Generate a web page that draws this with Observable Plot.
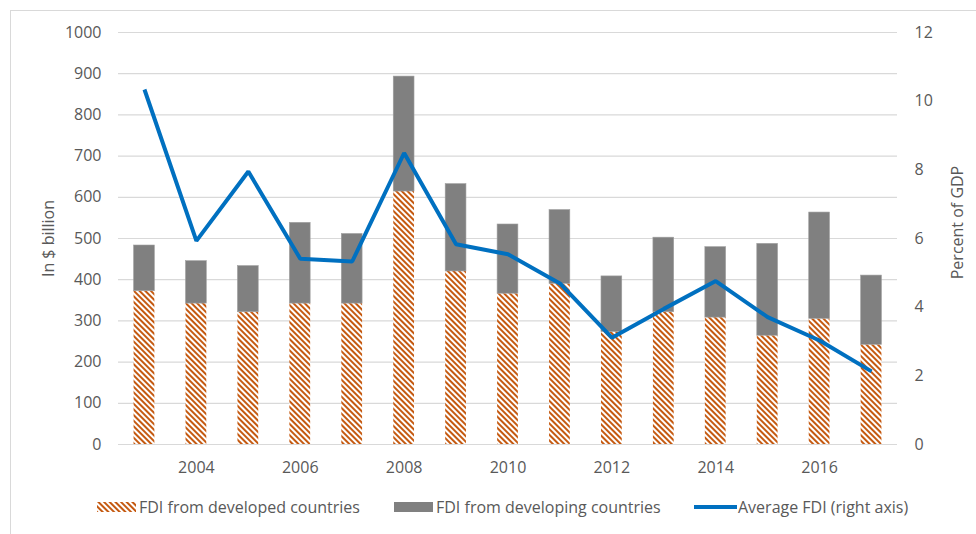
<!DOCTYPE html>
<html>
<head>
<meta charset="utf-8">
<script src="https://cdn.jsdelivr.net/npm/d3@7"></script>
<script src="https://cdn.jsdelivr.net/npm/@observablehq/plot@0.6"></script>
<style>
  html, body { margin: 0; padding: 0; background: #fff; }
  body { width: 976px; height: 534px; overflow: hidden; position: relative; font-family: "Open Sans", sans-serif; color: #595959; }
  #frame { position: absolute; left: 10px; top: 10px; width: 1100px; height: 700px; border: 1.5px solid #d9d9d9; box-sizing: border-box; }
  #chart { position: absolute; left: 0; top: 0; }
  #legend { position: absolute; left: 0; top: 494px; width: 976px; height: 26px; font-size: 16px; }
  .item { position: absolute; top: 0; height: 26px; display: flex; align-items: center; white-space: nowrap; }
  .sw { display: inline-block; margin-right: 3px; }
</style>
</head>
<body>
<div id="frame"></div>
<div id="chart"></div>
<div id="legend"></div>
<script>
const years = [2003, 2004, 2005, 2006, 2007, 2008, 2009, 2010, 2011, 2012, 2013, 2014, 2015, 2016, 2017];
const developed = [372, 342, 321, 342, 342, 614, 420, 366, 390, 273, 321, 308, 264, 305, 242];
const developing = [111, 103, 112, 196, 169, 279, 212, 168, 179, 135, 181, 171, 223, 258, 168];
const avgFDI = [10.34, 5.93, 7.95, 5.41, 5.33, 8.49, 5.83, 5.54, 4.69, 3.11, 3.95, 4.76, 3.71, 3.03, 2.13];
const leftTicks = [0, 100, 200, 300, 400, 500, 600, 700, 800, 900, 1000];
const rightTicks = [0, 2, 4, 6, 8, 10, 12];
const xTickYears = [2004, 2006, 2008, 2010, 2012, 2014, 2016];
const seriesNames = ["FDI from developed countries", "FDI from developing countries", "Average FDI (right axis)"];
const leftTitle = "In $ billion";
const rightTitle = "Percent of GDP";

const ORANGE = "#c55a11", GRAY = "#808080", BLUE = "#0070c0", GRID = "#d9d9d9", TEXT = "#595959";
const k = 1000 / 12; // right-axis value -> left-axis units

const data = years.map((year, i) => ({
  year, dev: developed[i], total: developed[i] + developing[i], pct: avgFDI[i]
}));

const plot = Plot.plot({
  width: 976,
  height: 490,
  marginTop: 32,
  marginBottom: 46,
  marginLeft: 118,
  marginRight: 79,
  style: { fontFamily: "'Open Sans', sans-serif", fontSize: "16px", color: TEXT, background: "transparent", overflow: "visible" },
  x: { type: "band", domain: years, paddingInner: 0.6, paddingOuter: 0.3, round: false },
  y: { domain: [0, 1000] },
  marks: [
    Plot.gridY(leftTicks, { stroke: GRID, strokeOpacity: 1, strokeWidth: 1.2 }),
    Plot.barY(data, { x: "year", y1: 0, y2: "dev", fill: "url(#hatch)" }),
    Plot.barY(data, { x: "year", y1: "dev", y2: "total", fill: GRAY, stroke: "#a0a0a0", strokeWidth: 0.6 }),
    Plot.line(data, { x: "year", y: d => d.pct * k, stroke: BLUE, strokeWidth: 4, strokeLinejoin: "miter", strokeLinecap: "butt" }),
    Plot.axisY(leftTicks, { anchor: "left", tickSize: 0, tickPadding: 17, label: null, fill: TEXT, tickFormat: d => String(d) }),
    Plot.axisY(rightTicks.map(d => d * k), { anchor: "right", tickSize: 0, tickPadding: 17, label: null, tickFormat: d => String(Math.round(d / k)), fill: TEXT }),
    Plot.axisX(xTickYears, { anchor: "bottom", tickSize: 0, tickPadding: 17, label: null, fill: TEXT, tickFormat: d => String(d) }),
    Plot.text([leftTitle], { frameAnchor: "left", dx: -70, dy: 0, rotate: -90, fill: TEXT, fontSize: 16, textAnchor: "middle" }),
    Plot.text([rightTitle], { frameAnchor: "right", dx: 60, dy: -16, rotate: -90, fill: TEXT, fontSize: 16, textAnchor: "middle" })
  ]
});

// hatch pattern definition
const NS = "http://www.w3.org/2000/svg";
function makeHatch(id) {
  const defs = document.createElementNS(NS, "defs");
  const pat = document.createElementNS(NS, "pattern");
  pat.setAttribute("id", id);
  pat.setAttribute("patternUnits", "userSpaceOnUse");
  pat.setAttribute("width", "4");
  pat.setAttribute("height", "4");
  pat.setAttribute("patternTransform", "rotate(-45)");
  const bg = document.createElementNS(NS, "rect");
  bg.setAttribute("width", "4"); bg.setAttribute("height", "4"); bg.setAttribute("fill", "#fff");
  const st = document.createElementNS(NS, "rect");
  st.setAttribute("width", "2"); st.setAttribute("height", "4"); st.setAttribute("fill", ORANGE);
  pat.appendChild(bg); pat.appendChild(st);
  defs.appendChild(pat);
  return defs;
}
plot.insertBefore(makeHatch("hatch"), plot.firstChild);
document.getElementById("chart").appendChild(plot);

// legend
const legend = document.getElementById("legend");
const items = [
  { left: 97, name: seriesNames[0], sw: `<svg class="sw" width="39" height="10"><defs><pattern id="hatchL" patternUnits="userSpaceOnUse" width="4" height="4" patternTransform="rotate(-45)"><rect width="4" height="4" fill="#fff"/><rect width="2" height="4" fill="${ORANGE}"/></pattern></defs><rect width="39" height="10" fill="url(#hatchL)"/></svg>` },
  { left: 394, name: seriesNames[1], sw: `<svg class="sw" width="39" height="10"><rect width="39" height="10" fill="${GRAY}"/></svg>` },
  { left: 694, name: seriesNames[2], sw: `<svg class="sw" width="43" height="10" style="margin-right:1px"><line x1="0" x2="43" y1="5" y2="5" stroke="${BLUE}" stroke-width="4"/></svg>` }
];
for (const it of items) {
  const d = document.createElement("div");
  d.className = "item";
  d.style.left = it.left + "px";
  d.innerHTML = it.sw + `<span>${it.name}</span>`;
  legend.appendChild(d);
}
</script>
</body>
</html>
